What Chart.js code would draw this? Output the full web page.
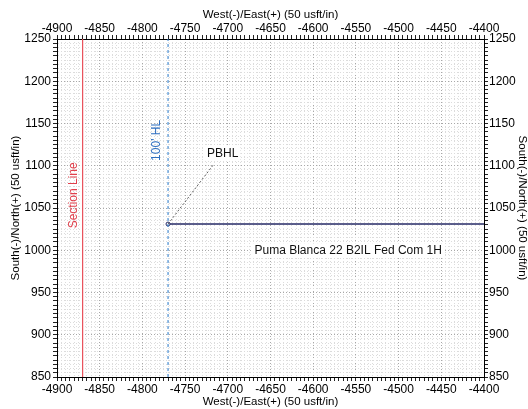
<!DOCTYPE html>
<html lang="en">
<head>
  <meta charset="UTF-8" />
  <title>Plan View</title>
  <script src="https://cdn.jsdelivr.net/npm/chart.js"></script>
  <style>
    html, body { margin: 0; padding: 0; background: #fff; }
  </style>
</head>
<body>
  <canvas id="planChart" width="528" height="409"></canvas>

  <script>
    // axis ranges (usft)
    const xRange = [-4900, -4400];
    const yRange = [850, 1250];
    const majorStep = 50;
    const minorStep = 5;

    // lines
    const sectionLineX = [-4870, -4870];
    const sectionLineY = [850, 1250];
    const hardLineX = [-4770, -4770];
    const hardLineY = [850, 1250];
    const wellX = [-4770, -4400];
    const wellY = [1031, 1031];
    const pbhlLeaderX = [-4770, -4717];
    const pbhlLeaderY = [1031, 1101];

    // annotation texts
    const labelText = ["Section Line", "100' HL", "PBHL", "Puma Blanca 22 B2IL Fed Com 1H"];
    const labelX = [-4881, -4783, -4706, -4559];
    const labelY = [1065, 1130, 1114, 1000];
    const labelColor = ["#e0404c", "#2f6fc0", "#111", "#111"];
    const labelRotated = [true, true, false, false];

    const axisTitleX = "West(-)/East(+) (50 usft/in)";
    const axisTitleY = "South(-)/North(+) (50 usft/in)";

    const FONT = "'Liberation Sans', Arial, sans-serif";

    const pts = (xs, ys) => xs.map((x, i) => ({ x: x, y: ys[i] }));

    const gridColor = c => (c.tick && c.tick.value % majorStep === 0) ? "#a8a8a8" : "#dcdcdc";
    const tickLabel = v => (v % majorStep === 0 ? String(v) : "");

    function makeAxis(pos, range, size, title, titlePad, tickPad, onChart) {
      const horizontal = pos === "top" || pos === "bottom";
      return {
        type: "linear",
        position: pos,
        min: range[0],
        max: range[1],
        afterFit: s => { if (horizontal) s.height = size; else s.width = size; },
        ticks: {
          stepSize: minorStep,
          autoSkip: false,
          maxRotation: 0,
          minRotation: 0,
          padding: tickPad,
          color: "#000",
          font: { family: FONT, size: 12 },
          callback: tickLabel
        },
        grid: {
          drawOnChartArea: onChart,
          color: gridColor,
          lineWidth: 1,
          tickLength: 4,
          tickColor: "#222"
        },
        border: {
          display: true,
          color: "#000",
          width: 1,
          dash: c => (c.tick ? [1, 2] : [])
        },
        title: {
          display: true,
          text: title,
          color: "#000",
          font: { family: FONT, size: 11.5, lineHeight: 1.2 },
          padding: titlePad
        }
      };
    }

    const labelsPlugin = {
      id: "planLabels",
      afterDatasetsDraw(chart) {
        const { ctx, scales } = chart;
        ctx.save();
        ctx.font = "12px " + FONT;
        ctx.textAlign = "center";
        ctx.textBaseline = "middle";
        labelText.forEach((t, i) => {
          const px = scales.x.getPixelForValue(labelX[i]);
          const py = scales.y.getPixelForValue(labelY[i]);
          ctx.save();
          ctx.translate(px, py);
          if (labelRotated[i]) ctx.rotate(-Math.PI / 2);
          if (!labelRotated[i]) {
            const w = ctx.measureText(t).width;
            ctx.fillStyle = "#fff";
            ctx.fillRect(-w / 2 - 2, -7, w + 4, 14);
          }
          ctx.fillStyle = labelColor[i];
          ctx.fillText(t, 0, 0);
          ctx.restore();
        });
        ctx.restore();
      }
    };

    new Chart(document.getElementById("planChart").getContext("2d"), {
      type: "scatter",
      data: {
        datasets: [
          {
            label: "Section Line",
            data: pts(sectionLineX, sectionLineY),
            showLine: true,
            borderColor: "#e8505a",
            borderWidth: 1.2,
            pointRadius: 0
          },
          {
            label: "100' HL",
            data: pts(hardLineX, hardLineY),
            showLine: true,
            borderColor: "#2f7fd0",
            borderWidth: 1,
            borderDash: [3, 3],
            pointRadius: 0
          },
          {
            label: "PBHL leader",
            data: pts(pbhlLeaderX, pbhlLeaderY),
            showLine: true,
            borderColor: "#333",
            borderWidth: 0.8,
            borderDash: [2, 2],
            pointRadius: 0
          },
          {
            label: "Puma Blanca 22 B2IL Fed Com 1H",
            data: pts(wellX, wellY),
            showLine: true,
            borderColor: "#262a66",
            borderWidth: 1.6,
            pointRadius: [2, 0],
            pointBackgroundColor: "#fff",
            pointBorderColor: "#262a66",
            pointBorderWidth: 1
          }
        ]
      },
      options: {
        responsive: false,
        animation: false,
        devicePixelRatio: 1,
        layout: { padding: 0 },
        plugins: {
          legend: { display: false },
          tooltip: { enabled: false }
        },
        scales: {
          x: makeAxis("bottom", xRange, 32, axisTitleX, { top: 0, bottom: 0 }, 1, true),
          x2: makeAxis("top", xRange, 39, axisTitleX, { top: 8, bottom: 0 }, -1, false),
          y: makeAxis("left", yRange, 57, axisTitleY, { top: 9, bottom: 0 }, 2, true),
          y2: makeAxis("right", yRange, 44, axisTitleY, { top: -1, bottom: 0 }, 1, false)
        }
      },
      plugins: [labelsPlugin]
    });
  </script>
</body>
</html>
